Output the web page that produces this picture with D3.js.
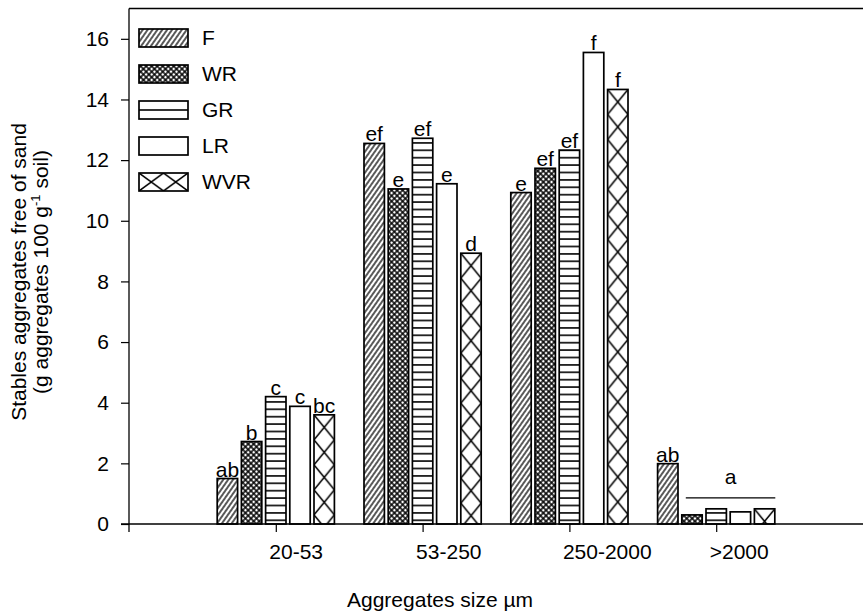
<!DOCTYPE html>
<html><head><meta charset="utf-8">
<script src="https://cdn.jsdelivr.net/npm/d3@7"></script>
<style>
body{margin:0;background:#fff}
text{font-family:"Liberation Sans",Arial,sans-serif;fill:#000}
</style>
</head><body><svg id="c" width="863" height="614"></svg>
<script>
const categories = ["20-53", "53-250", "250-2000", ">2000"];
const series = ["F", "WR", "GR", "LR", "WVR"];
const F   = [1.5, 12.55, 10.93, 1.99];
const WR  = [2.72, 11.05, 11.73, 0.3];
const GR  = [4.2, 12.72, 12.33, 0.5];
const LR  = [3.88, 11.22, 15.55, 0.4];
const WVR = [3.6, 8.93, 14.33, 0.5];
const lettersF   = ["ab", "ef", "e", "ab"];
const lettersWR  = ["b", "e", "ef", ""];
const lettersGR  = ["c", "ef", "ef", ""];
const lettersLR  = ["c", "e", "f", ""];
const lettersWVR = ["bc", "d", "f", ""];
const groupLetterCategory = ">2000";
const groupLetterSeries = ["WR", "GR", "LR", "WVR"];
const groupLetter = "a";
const yTicks = [0, 2, 4, 6, 8, 10, 12, 14, 16];

const values = {F, WR, GR, LR, WVR};
const letters = {F: lettersF, WR: lettersWR, GR: lettersGR, LR: lettersLR, WVR: lettersWVR};

const svg = d3.select("#c");
const defs = svg.append("defs");
const x = d3.scalePoint().domain(categories).range([129, 863]).padding(1);
const y = d3.scaleLinear().domain([0, 17]).range([524, 8.5]);
const xs = d3.scaleBand().domain(series).range([-60.5, 60.5]).paddingInner(0.157).paddingOuter(0.0785);
const SW = 1.7;

// global patterns
const pF = defs.append("pattern").attr("id", "pat-F").attr("patternUnits", "userSpaceOnUse")
  .attr("width", 4.0).attr("height", 10).attr("patternTransform", "rotate(35)");
pF.append("rect").attr("width", 4.0).attr("height", 10).attr("fill", "#fff");
pF.append("line").attr("x1", 2).attr("x2", 2).attr("y1", -1).attr("y2", 11).attr("stroke", "#000").attr("stroke-width", 1.3);

const pWR = defs.append("pattern").attr("id", "pat-WR").attr("patternUnits", "userSpaceOnUse")
  .attr("width", 3.9).attr("height", 3.9).attr("patternTransform", "rotate(45)");
pWR.append("rect").attr("width", 3.9).attr("height", 3.9).attr("fill", "#fff");
pWR.append("path").attr("d", "M1.95,-1V5M-1,1.95H5").attr("stroke", "#000").attr("stroke-width", 1.45);

function grPattern(id, y0, period) {
  const p = defs.append("pattern").attr("id", id).attr("patternUnits", "userSpaceOnUse")
    .attr("x", 0).attr("y", y0).attr("width", 10).attr("height", period);
  p.append("rect").attr("width", 10).attr("height", period).attr("fill", "#fff");
  p.append("line").attr("x1", -1).attr("x2", 11).attr("y1", period / 2).attr("y2", period / 2)
    .attr("stroke", "#000").attr("stroke-width", 1.6);
}
function wvrPattern(id, x0, y0, w, h) {
  const p = defs.append("pattern").attr("id", id).attr("patternUnits", "userSpaceOnUse")
    .attr("x", x0).attr("y", y0).attr("width", w).attr("height", h);
  p.append("rect").attr("width", w).attr("height", h).attr("fill", "#fff");
  let d = "";
  for (const k of [-1, 0, 1]) {
    d += `M${k * w - w},${-h}L${k * w + 2 * w},${2 * h}`;
    d += `M${k * w + 2 * w},${-h}L${k * w - w},${2 * h}`;
  }
  p.append("path").attr("d", d).attr("stroke", "#000").attr("stroke-width", 1.5).attr("fill", "none");
}
grPattern("pat-GR", y(0), 7.4);

function fillFor(s, xpos, ytop, w) {
  if (s === "F") return "url(#pat-F)";
  if (s === "WR") return "url(#pat-WR)";
  if (s === "GR") return "url(#pat-GR)";
  if (s === "LR") return "#fff";
  const id = "pat-WVR-" + Math.round(xpos);
  wvrPattern(id, xpos, ytop, w, 25);
  return `url(#${id})`;
}

// bars
const barData = [];
categories.forEach((c, i) => series.forEach(s => barData.push({c, s, v: values[s][i], lab: letters[s][i]})));
const bw = xs.bandwidth();
const gBars = svg.append("g");
barData.forEach(d => {
  const bx = x(d.c) + xs(d.s);
  const by = y(d.v);
  gBars.append("rect").attr("x", bx).attr("y", by).attr("width", bw).attr("height", y(0) - by)
    .attr("fill", fillFor(d.s, bx, by, bw)).attr("stroke", "#000").attr("stroke-width", SW);
  if (d.lab) {
    gBars.append("text").attr("x", bx + bw / 2).attr("y", by - 2).attr("text-anchor", "middle")
      .attr("font-size", 21).text(d.lab);
  }
});

// group letter
const gi = categories.indexOf(groupLetterCategory);
const gMax = d3.max(groupLetterSeries, s => values[s][gi]);
const gx0 = x(groupLetterCategory) + xs(groupLetterSeries[0]) + 4;
const gx1 = x(groupLetterCategory) + xs(groupLetterSeries[groupLetterSeries.length - 1]) + bw + 0.5;
const gy = y(gMax) - 11;
svg.append("line").attr("x1", gx0).attr("x2", gx1).attr("y1", gy).attr("y2", gy).attr("stroke", "#000").attr("stroke-width", 1.2);
svg.append("text").attr("x", (gx0 + gx1) / 2).attr("y", gy - 14).attr("text-anchor", "middle").attr("font-size", 21).text(groupLetter);

// axes
const axL = svg.append("g").attr("transform", `translate(129,0)`)
  .call(d3.axisLeft(y).tickValues(yTicks).tickSize(8).tickPadding(12).tickFormat(d3.format("d")));
axL.select(".domain").remove();
axL.selectAll("line").attr("stroke", "#000").attr("stroke-width", 1.2);
axL.selectAll("text").attr("font-size", 21).attr("font-family", "Liberation Sans, Arial, sans-serif");
svg.append("line").attr("x1", 129).attr("x2", 129).attr("y1", y(17)).attr("y2", y(0) + 8).attr("stroke", "#000").attr("stroke-width", 1.3);
svg.append("line").attr("x1", 129).attr("x2", 863).attr("y1", y(17)).attr("y2", y(17)).attr("stroke", "#000").attr("stroke-width", 1.3);

const axB = svg.append("g").attr("transform", `translate(0,${y(0)})`)
  .call(d3.axisBottom(x).tickSize(8).tickPadding(12));
axB.select(".domain").remove();
axB.selectAll("line").attr("stroke", "#000").attr("stroke-width", 1.2);
axB.selectAll("text").attr("font-size", 21).attr("text-anchor", "start").attr("dx", -7)
  .attr("font-family", "Liberation Sans, Arial, sans-serif");
svg.append("line").attr("x1", 121).attr("x2", 863).attr("y1", y(0)).attr("y2", y(0)).attr("stroke", "#000").attr("stroke-width", 1.3);

// legend
const lg = svg.append("g");
series.forEach((s, i) => {
  const ly = 29 + 36 * i, lx = 139, lw = 49, lh = 18;
  let fill;
  if (s === "GR") { grPattern("pat-GR-leg", ly, lh); fill = "url(#pat-GR-leg)"; }
  else if (s === "WVR") { wvrPattern("pat-WVR-leg", lx, ly, lw / 2, lh); fill = "url(#pat-WVR-leg)"; }
  else fill = fillFor(s, lx, ly, lw);
  lg.append("rect").attr("x", lx).attr("y", ly).attr("width", lw).attr("height", lh)
    .attr("fill", fill).attr("stroke", "#000").attr("stroke-width", SW);
  lg.append("text").attr("x", 202).attr("y", ly + 16).attr("font-size", 21).text(s);
});

// titles
const yt = svg.append("text").attr("transform", "translate(26,272) rotate(-90)").attr("text-anchor", "middle").attr("font-size", 21);
yt.append("tspan").attr("x", 0).attr("y", 0).text("Stables aggregates free of sand");
yt.append("tspan").attr("x", 0).attr("y", 22).text("(g aggregates 100 g");
yt.append("tspan").attr("dy", -8).attr("font-size", 13).text("-1");
yt.append("tspan").attr("dy", 8).text(" soil)");

svg.append("text").attr("x", 440).attr("y", 607).attr("text-anchor", "middle").attr("font-size", 21).text("Aggregates size µm");
</script>
</body></html>
